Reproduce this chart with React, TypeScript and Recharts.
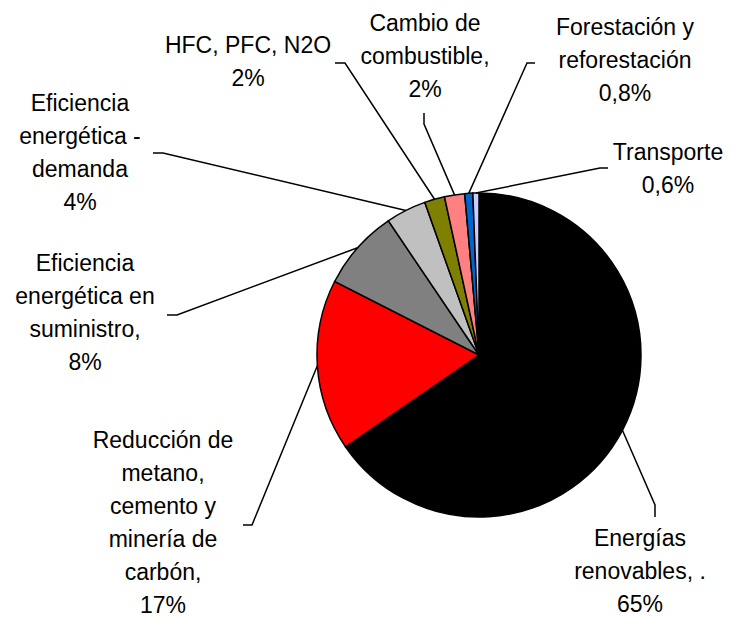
import { PieChart, Pie, Cell } from "recharts";

const categories = [
  "Energías\nrenovables, .",
  "Reducción de\nmetano,\ncemento y\nminería de\ncarbón,",
  "Eficiencia\nenergética en\nsuministro,",
  "Eficiencia\nenergética -\ndemanda",
  "HFC, PFC, N2O",
  "Cambio de\ncombustible,",
  "Forestación y\nreforestación",
  "Transporte",
];
const values = [65, 17, 8, 4, 2, 2, 0.8, 0.6];
const pctLabels = ["65%", "17%", "8%", "4%", "2%", "2%", "0,8%", "0,6%"];
const colors = ["#000000", "#FF0000", "#808080", "#C0C0C0", "#808000", "#FF8080", "#0066CC", "#CCCCFF"];

const data = categories.map((name, i) => ({ name, value: values[i], pct: pctLabels[i] }));

// label placement: text centre x, first line y, tick (outer end, elbow)
const labelPos = [
  { x: 640, y: 538, tick: [655, 517, 655, 505] },
  { x: 163, y: 440, tick: [243, 525, 252, 525] },
  { x: 85, y: 263, tick: [167, 315, 177, 315] },
  { x: 80, y: 103, tick: [153, 153, 163, 153] },
  { x: 248, y: 45, tick: [335, 63, 345, 63] },
  { x: 425, y: 23, tick: [424, 113, 424, 124] },
  { x: 625, y: 27, tick: [535, 63, 527, 63] },
  { x: 668, y: 152, tick: [608, 168, 600, 168] },
];

const RAD = Math.PI / 180;
const LINE_H = 33;

const renderLabel = (props: any) => {
  const { cx, cy, midAngle, outerRadius, index, payload } = props;
  const pos = labelPos[index];
  const ex = cx + outerRadius * Math.cos(-midAngle * RAD);
  const ey = cy + outerRadius * Math.sin(-midAngle * RAD);
  const lines = [...String(payload.name).split("\n"), payload.pct];
  const [x1, y1, x2, y2] = pos.tick;
  return (
    <g>
      <polyline
        points={`${x1},${y1} ${x2},${y2} ${ex},${ey}`}
        fill="none"
        stroke="#000"
        strokeWidth={1.5}
      />
      <text
        x={pos.x}
        y={pos.y}
        textAnchor="middle"
        fill="#000"
        fontSize={23}
        fontFamily="'Liberation Sans', Arial, sans-serif"
      >
        {lines.map((l, i) => (
          <tspan key={i} x={pos.x} y={pos.y + i * LINE_H} dominantBaseline="central">
            {l}
          </tspan>
        ))}
      </text>
    </g>
  );
};

export default function App() {
  return (
    <div style={{ width: 737, height: 618, background: "#fff" }}>
      <style>{`body{margin:0}`}</style>
      <PieChart width={737} height={618} margin={{ top: 0, right: 0, bottom: 0, left: 0 }}>
        <Pie
          data={data}
          dataKey="value"
          cx={479}
          cy={355}
          outerRadius={162}
          startAngle={90}
          endAngle={-270}
          stroke="#000"
          strokeWidth={1.5}
          label={renderLabel}
          labelLine={false}
          isAnimationActive={false}
        >
          {data.map((d, i) => (
            <Cell key={d.name} fill={colors[i]} />
          ))}
        </Pie>
      </PieChart>
    </div>
  );
}
